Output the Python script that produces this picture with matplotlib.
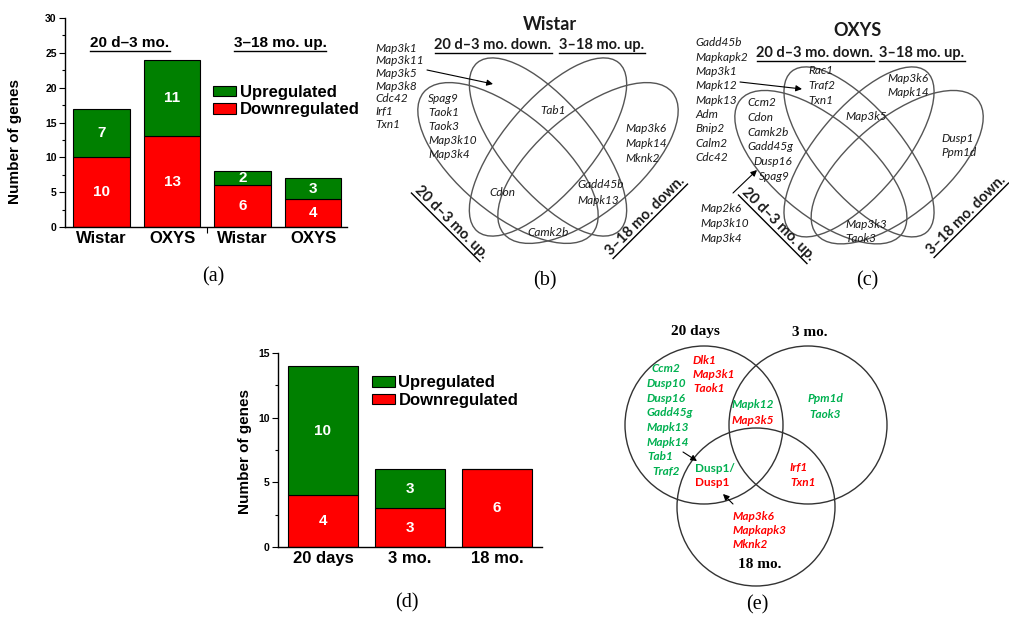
import matplotlib
matplotlib.use('Agg')
import matplotlib.pyplot as plt
from matplotlib.patches import Ellipse, Circle
import numpy as np

plt.rcParams['font.family'] = ['Liberation Sans', 'DejaVu Sans']

W, H = 1009, 621

# ---------------- data ----------------
# (a) number of genes, 20 d-3 mo. and 3-18 mo. comparisons
a_strains = ['Wistar', 'OXYS', 'Wistar', 'OXYS']
a_down = [10, 13, 6, 4]
a_up = [7, 11, 2, 3]

# (d) number of genes by age
d_ages = ['20 days', '3 mo.', '18 mo.']
d_down = [4, 3, 6]
d_up = [10, 3, 0]

# (b) Wistar Venn gene lists
b_down_only = ['Map3k1', 'Map3k11', 'Map3k5', 'Map3k8', 'Cdc42', 'Irf1', 'Txn1']
b_up_only = ['Spag9', 'Taok1', 'Taok3', 'Map3k10', 'Map3k4']
b_down_up18 = ['Tab1']
b_down18_only = ['Map3k6', 'Mapk14', 'Mknk2']
b_up_up18 = ['Cdon']
b_down_down18 = ['Gadd45b', 'Mapk13']
b_up_down18 = ['Camk2b']

# (c) OXYS Venn gene lists
c_down_only = ['Gadd45b', 'Mapkapk2', 'Map3k1', 'Mapk12', 'Mapk13', 'Adm', 'Bnip2', 'Calm2', 'Cdc42']
c_down_top = ['Rac1', 'Traf2', 'Txn1']
c_up18_only = ['Map3k6', 'Mapk14']
c_down_up18 = ['Map3k5']
c_up_only = ['Ccm2', 'Cdon', 'Camk2b', 'Gadd45g', 'Dusp16', 'Spag9']
c_up_extra = ['Map2k6', 'Map3k10', 'Map3k4']
c_down18_only = ['Dusp1', 'Ppm1d']
c_up_down18 = ['Map3k3', 'Taok3']

# (e) 3-set Venn, (gene, direction)
e_20d_up = ['Ccm2', 'Dusp10', 'Dusp16', 'Gadd45g', 'Mapk13', 'Mapk14', 'Tab1', 'Traf2']
e_20d_down = ['Dlk1', 'Map3k1', 'Taok1']
e_20d_3m = [('Mapk12', 'up'), ('Map3k5', 'down')]
e_3m = [('Ppm1d', 'up'), ('Taok3', 'up')]
e_20d_18m = [('Dusp1/', 'up'), ('Dusp1', 'down')]
e_3m_18m = [('Irf1', 'down'), ('Txn1', 'down')]
e_18m = [('Map3k6', 'down'), ('Mapkapk3', 'down'), ('Mknk2', 'down')]

GREEN = '#008000'
RED = '#ff0000'
E_GREEN = '#00b050'
INK = '#1a1a1a'

fig = plt.figure(figsize=(W / 100, H / 100), dpi=100)

# overlay in pixel coords (y down) for the Venn panels and labels
ov = fig.add_axes([0, 0, 1, 1])
ov.set_xlim(0, W)
ov.set_ylim(H, 0)
ov.axis('off')

underlines = []


def ul_text(x, y, s, rot=0, **kw):
    t = ov.text(x, y, s, ha='center', va='center', rotation=rot,
                rotation_mode='anchor', **kw)
    underlines.append((t, x, y, rot))
    return t


def genes(names, x, y, dy, color=INK, ha='left', indent=None, **kw):
    for i, g in enumerate(names):
        dx = indent[i] if indent else 0
        ov.text(x + dx, y + i * dy, g, ha=ha, va='center', color=color,
                family=['Lato', 'DejaVu Sans'], style='italic', **kw)


def arrow(x0, y0, x1, y1):
    ov.annotate('', xy=(x1, y1), xytext=(x0, y0),
                arrowprops=dict(arrowstyle='-|>', color='black', lw=0.8,
                                mutation_scale=9, shrinkA=0, shrinkB=0))


def bar_panel(rect, cats, down, up, ymax, xlim, leg_xy):
    ax = fig.add_axes(rect)
    ax.patch.set_alpha(0)
    x = np.arange(len(cats))
    ax.bar(x, down, 0.8, color=RED, edgecolor='black', lw=0.8, label='Downregulated')
    ax.bar(x, up, 0.8, bottom=down, color=GREEN, edgecolor='black', lw=0.8, label='Upregulated')
    for i in range(len(cats)):
        ax.text(x[i], down[i] / 2, str(down[i]), color='white', ha='center', va='center',
                fontsize=11, fontweight='bold')
        if up[i] > 0:
            ax.text(x[i], down[i] + up[i] / 2, str(up[i]), color='white', ha='center',
                    va='center', fontsize=11, fontweight='bold')
    ax.set_xlim(*xlim)
    ax.set_ylim(0, ymax)
    ax.set_yticks(np.arange(0, ymax + 1, 5))
    ax.set_yticks(np.arange(2.5, ymax, 5), minor=True)
    ax.set_xticks(x)
    ax.set_xticklabels(cats, fontsize=12, fontweight='bold')
    ax.tick_params(axis='x', which='major', length=0, pad=3)
    ax.tick_params(axis='y', which='major', length=4, width=0.8, labelsize=7.5, pad=2)
    ax.tick_params(axis='y', which='minor', length=2, width=0.8)
    for lab in ax.get_yticklabels():
        lab.set_fontweight('bold')
    for s in ['top', 'right']:
        ax.spines[s].set_visible(False)
    for s in ['left', 'bottom']:
        ax.spines[s].set_linewidth(1.0)
    ax.set_ylabel('Number of genes', fontsize=11, fontweight='bold')
    h, l = ax.get_legend_handles_labels()
    ax.legend(h[::-1], l[::-1], loc='upper left', bbox_to_anchor=leg_xy, frameon=False,
              prop={'weight': 'bold', 'size': 12}, handlelength=1.4, handleheight=0.6,
              handletextpad=0.2, labelspacing=0.15, borderpad=0, borderaxespad=0)
    return ax


# ---------------- (a) ----------------
axA = bar_panel([65 / W, 1 - 227 / H, 282 / W, 209 / H], a_strains, a_down, a_up, 30,
                (-0.52, 3.48), (0.525, 0.68))
axA.set_xticks([1.5], minor=True)
axA.tick_params(axis='x', which='minor', length=4, width=0.8)
axA.yaxis.set_label_coords(-0.152, 0.41)
ul_text(130, 43, '20 d\u20133 mo.', fontsize=11, fontweight='bold')
ul_text(280, 43, '3\u201318 mo. up.', fontsize=11, fontweight='bold')

# ---------------- (d) ----------------
axD = bar_panel([278 / W, 1 - 547 / H, 264 / W, 194 / H], d_ages, d_down, d_up, 15,
                (-0.517, 2.517), (0.355, 0.885))
axD.yaxis.set_label_coords(-0.098, 0.49)


# ---------------- 4-set Venn ellipses ----------------
def venn4(x0, y0, s):
    # two steep inner ellipses sharing a centre, two flatter outer ones
    shapes = [((90, 105), 50, 40), ((130, 89), 45, 50),
              ((130, 89), 45, -50), ((170, 105), 50, -40)]
    for (cx, cy), b, ang in shapes:
        ov.add_patch(Ellipse((x0 + cx * s, y0 + cy * s), 220 * s, 2 * b * s, angle=ang,
                             fill=False, ec='#555555', lw=1.0))


venn_head = dict(fontsize=10.5, fontweight='bold', family=['Lato', 'DejaVu Sans'], color=INK)
gsz = 8.5

# (b) Wistar
venn4(418, 58, 1.0)
ov.text(550, 25, 'Wistar', ha='center', va='center', fontsize=13, fontweight='bold',
        family=['Lato', 'DejaVu Sans'], color=INK)
ul_text(493, 45, '20 d\u20133 mo. down.', **venn_head)
ul_text(602, 45, '3\u201318 mo. up.', **venn_head)
ul_text(451, 222, '20 d\u20133 mo. up.', rot=-45, **venn_head)
ul_text(645, 216, '3\u201318 mo. down.', rot=45, **venn_head)
genes(b_down_only, 375, 48, 12.7, fontsize=gsz)
genes(b_up_only, 428, 98, 14, fontsize=gsz)
genes(b_down_up18, 553, 111, 14, ha='center', fontsize=gsz)
genes(b_down18_only, 625, 129, 14.5, fontsize=gsz)
genes(b_up_up18, 502, 192, 14, ha='center', fontsize=gsz)
genes(b_down_down18, 577, 185, 16, fontsize=gsz)
genes(b_up_down18, 548, 232, 14, ha='center', fontsize=gsz)
arrow(427, 70, 493, 84)

# (c) OXYS
venn4(735, 67, 0.954)
ov.text(857, 31, 'OXYS', ha='center', va='center', fontsize=13, fontweight='bold',
        family=['Lato', 'DejaVu Sans'], color=INK)
ul_text(815, 53, '20 d\u20133 mo. down.', **venn_head)
ul_text(922, 53, '3\u201318 mo. up.', **venn_head)
ul_text(778, 224, '20 d\u20133 mo. up.', rot=-45, **venn_head)
ul_text(966, 215, '3\u201318 mo. down.', rot=45, **venn_head)
genes(c_down_only, 695, 43, 14.3, fontsize=gsz)
genes(c_down_top, 808, 71, 14.5, fontsize=gsz)
genes(c_up18_only, 887, 78, 14.5, fontsize=gsz)
genes(c_down_up18, 866, 116, 14, ha='center', fontsize=gsz)
genes(c_up_only, 747, 103, 14.6, indent=[0, 0, 0, 0, 6, 12], fontsize=gsz)
genes(c_up_extra, 700, 209, 14.5, fontsize=gsz)
genes(c_down18_only, 941, 138, 14.5, fontsize=gsz)
genes(c_up_down18, 845, 224, 14, fontsize=gsz)
arrow(740, 82, 802, 89)
arrow(733, 193, 757, 170)

# (e) 3-circle Venn
for c in [(704, 425), (808, 425), (756, 507)]:
    ov.add_patch(Circle(c, 79, fill=False, ec='#333333', lw=1.0))
serif_b = dict(fontsize=11, fontweight='bold', family=['Liberation Serif', 'DejaVu Serif'])
ov.text(695, 332, '20 days', ha='center', va='center', **serif_b)
ov.text(810, 332, '3 mo.', ha='center', va='center', **serif_b)
ov.text(760, 565, '18 mo.', ha='center', va='center', **serif_b)

ecol = {'up': E_GREEN, 'down': RED}
esz = 8.5
genes(e_20d_up, 647, 369, 14.6, color=E_GREEN, indent=[5, 0, 0, 0, 0, 0, 0, 5],
      fontsize=esz, fontweight='bold')
genes(e_20d_down, 693, 360, 14.5, color=RED, fontsize=esz, fontweight='bold')


def e_block(items, x, y, dy, ha='left'):
    for i, (g, d) in enumerate(items):
        st = 'normal' if g.startswith('Dusp1') else 'italic'
        ov.text(x, y + i * dy, g, ha=ha, va='center', color=ecol[d], fontsize=esz,
                fontweight='bold', family=['Lato', 'DejaVu Sans'], style=st)


e_block(e_20d_3m, 753, 405, 15, ha='center')
e_block(e_3m, 825, 399, 15, ha='center')
e_block(e_20d_18m, 695, 468, 15)
e_block(e_3m_18m, 790, 468, 15)
e_block(e_18m, 733, 516, 14.3)
arrow(683, 452, 697, 461)
arrow(733, 504, 723, 494)

# panel letters
serif = dict(fontsize=14.5, family=['Liberation Serif', 'DejaVu Serif'], ha='center', va='center')
ov.text(213, 277, '(a)', **serif)
ov.text(545, 281, '(b)', **serif)
ov.text(867, 281, '(c)', **serif)
ov.text(407, 603, '(d)', **serif)
ov.text(757, 605, '(e)', **serif)

# underlines, measured from the rendered text
fig.canvas.draw()
rend = fig.canvas.get_renderer()
for t, x, y, rot in underlines:
    t.set_rotation(0)
    bb = t.get_window_extent(rend)
    t.set_rotation(rot)
    w, h = bb.width, bb.height
    r = np.deg2rad(rot)
    ux, uy = np.cos(r), -np.sin(r)
    nx, ny = np.sin(r), np.cos(r)
    d = h / 2 + 0.5
    ov.plot([x - w / 2 * ux + d * nx, x + w / 2 * ux + d * nx],
            [y - w / 2 * uy + d * ny, y + w / 2 * uy + d * ny], color='black', lw=1.0)

fig.savefig('out.png', dpi=100)
